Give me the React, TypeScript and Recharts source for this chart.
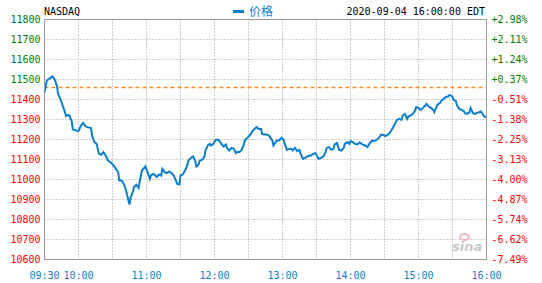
import { LineChart, Line, XAxis, YAxis, CartesianGrid, ReferenceLine, Legend } from "recharts";

// previous close of the index, used for the dashed line and the % axis
const prevClose = 11458.1;

// minutes after 09:30
const minutes = [
  0, 2, 5, 7, 9, 11, 12, 14, 16, 18, 19, 21, 22, 24, 25, 28, 30, 32, 34, 36, 38, 41, 42, 44, 46, 48, 50, 52, 54, 56,
  59, 61, 63, 65, 66, 68, 70, 72, 73, 75, 76, 78, 79, 81, 83, 85, 86, 89, 91, 93, 94, 96, 97, 99, 101, 103, 104, 106,
  108, 110, 112, 114, 116, 117, 119, 120, 122, 124, 126, 127, 129, 131, 133, 134, 136, 137, 139, 141, 142, 144, 146,
  147, 149, 151, 153, 154, 156, 158, 160, 161, 163, 165, 167, 169, 170, 172, 174, 176, 177, 179, 181, 183, 184, 187,
  189, 191, 192, 194, 196, 198, 199, 201, 202, 204, 205, 207, 209, 211, 212, 214, 216, 218, 219, 221, 223, 225, 226,
  228, 230, 232, 234, 235, 237, 239, 241, 242, 244, 246, 248, 249, 251, 253, 255, 256, 258, 260, 262, 264, 265, 267,
  269, 270, 272, 274, 276, 278, 280, 281, 283, 285, 287, 289, 290, 292, 294, 296, 297, 299, 301, 303, 304, 306, 308,
  310, 311, 313, 315, 316, 318, 320, 321, 323, 325, 327, 328, 330, 332, 334, 336, 337, 339, 341, 343, 344, 345, 347,
  349, 350, 352, 354, 356, 357, 359, 360, 361, 363, 364, 366, 368, 370, 371, 373, 375, 376, 378, 380, 381, 383, 385,
  387, 388, 390,
];

const prices = [
  11435, 11495, 11507, 11515, 11500, 11467, 11428, 11403, 11370, 11337, 11317, 11323, 11320, 11292, 11250, 11245,
  11242, 11267, 11283, 11267, 11262, 11257, 11220, 11187, 11178, 11128, 11123, 11137, 11120, 11095, 11083, 11070,
  11053, 11037, 10995, 10995, 10978, 10945, 10920, 10875, 10911, 10940, 10962, 10973, 10957, 11020, 11045, 11065,
  11037, 11003, 11020, 11028, 11025, 11012, 11025, 11020, 11053, 11037, 11032, 11040, 11032, 11020, 10995, 10978,
  10975, 11020, 11025, 11045, 11070, 11095, 11108, 11115, 11095, 11065, 11075, 11095, 11098, 11112, 11145, 11170,
  11178, 11170, 11178, 11198, 11200, 11195, 11178, 11165, 11175, 11158, 11145, 11158, 11153, 11132, 11137, 11137,
  11148, 11178, 11198, 11208, 11220, 11237, 11245, 11262, 11253, 11253, 11228, 11225, 11225, 11220, 11212, 11195,
  11170, 11187, 11195, 11195, 11208, 11198, 11178, 11148, 11153, 11153, 11145, 11158, 11142, 11148, 11128, 11103,
  11108, 11115, 11120, 11120, 11128, 11132, 11112, 11103, 11108, 11115, 11137, 11158, 11162, 11148, 11153, 11175,
  11182, 11148, 11145, 11158, 11178, 11187, 11178, 11192, 11187, 11178, 11175, 11185, 11178, 11173, 11170, 11162,
  11182, 11195, 11192, 11195, 11202, 11215, 11225, 11223, 11217, 11225, 11228, 11245, 11265, 11287, 11298, 11303,
  11298, 11320, 11328, 11303, 11315, 11320, 11328, 11345, 11362, 11358, 11348, 11358, 11370, 11378, 11365, 11358,
  11348, 11337, 11353, 11375, 11382, 11392, 11403, 11412, 11415, 11422, 11418, 11412, 11398, 11392, 11370, 11353,
  11348, 11342, 11332, 11328, 11337, 11358, 11332, 11328, 11332, 11335, 11340, 11325, 11315, 11313,
];

const gridMinutes = [0, 30, 60, 90, 120, 150, 180, 210, 240, 270, 300, 330, 360, 390];
const labelMinutes = [0, 30, 90, 150, 210, 270, 330, 390];
const labelTexts = ["09:30", "10:00", "11:00", "12:00", "13:00", "14:00", "15:00", "16:00"];
const priceTicks = [10600, 10700, 10800, 10900, 11000, 11100, 11200, 11300, 11400, 11500, 11600, 11700, 11800];

const data = minutes.map((m, i) => ({ m, price: prices[i] }));

const MONO = "'DejaVu Sans Mono', monospace";
const GREEN = "#008000";
const RED = "#ff0000";
const BLUE = "#0a7fcf";
const ORANGE = "#ff8c1a";

const pct = (v: number) => {
  const p = (v / prevClose - 1) * 100;
  return (p >= 0 ? "+" : "") + p.toFixed(2) + "%";
};

function XTick(props: any) {
  const { x, y, payload } = props;
  const idx = labelMinutes.indexOf(payload.value);
  if (idx < 0) return <g />;
  return (
    <text x={x} y={y + 14} textAnchor="middle" dominantBaseline="central" fontSize={10} fontFamily={MONO} fill={BLUE}>
      {labelTexts[idx]}
    </text>
  );
}

function LeftTick(props: any) {
  const { x, y, payload } = props;
  return (
    <text x={x - 2} y={y} textAnchor="end" dominantBaseline="central" fontSize={10} fontFamily={MONO}
      fill={payload.value > prevClose ? GREEN : RED}>
      {payload.value}
    </text>
  );
}

function RightTick(props: any) {
  const { x, y, payload } = props;
  return (
    <text x={x + 3} y={y} textAnchor="start" dominantBaseline="central" fontSize={10} fontFamily={MONO}
      fill={payload.value > prevClose ? GREEN : RED}>
      {pct(payload.value)}
    </text>
  );
}

// snap the dashed close line onto a pixel row so it stays sharp
function CloseLine(props: any) {
  const { x1, x2, y1 } = props;
  const y = Math.floor(y1) + 0.5;
  return (
    <line x1={x1} x2={x2} y1={y} y2={y} style={{ stroke: ORANGE, strokeWidth: 1.6, strokeDasharray: "4 3" }} />
  );
}

function LegendBox() {
  return (
    <div style={{ display: "flex", alignItems: "center", justifyContent: "flex-start", paddingLeft: 233 }}>
      <span style={{ display: "inline-block", width: 11, height: 3, background: BLUE, marginRight: 5 }} />
      <span style={{ color: BLUE, fontSize: 12, fontFamily: "'Noto Sans CJK SC', sans-serif", lineHeight: "14px" }}>价格</span>
    </div>
  );
}

export default function App() {
  return (
    <div style={{ position: "absolute", left: 0, top: 0, width: 542, height: 283, background: "#fff" }}>
      <LineChart width={542} height={283} data={data} margin={{ top: 19.5, right: 0, bottom: 0, left: 0.5 }}>
        <CartesianGrid yAxisId="left" stroke="#a0a0a0" strokeDasharray="1 2" />
        <XAxis dataKey="m" type="number" domain={[0, 390]} ticks={gridMinutes} interval={0} height={23.5}
          tickSize={0} tickLine={false} axisLine={{ stroke: "#999" }} tick={<XTick />} />
        <YAxis yAxisId="left" orientation="left" width={44} domain={[10600, 11800]} ticks={priceTicks} interval={0}
          tickSize={0} tickLine={false} axisLine={{ stroke: "#999" }} tick={<LeftTick />} />
        <YAxis yAxisId="right" orientation="right" width={55.5} domain={[10600, 11800]} ticks={priceTicks} interval={0}
          tickSize={0} tickLine={false} axisLine={{ stroke: "#999" }} tick={<RightTick />} />
        <ReferenceLine yAxisId="left" y={11800} stroke="#999" />
        <ReferenceLine yAxisId="left" y={prevClose} stroke={ORANGE} shape={<CloseLine />} />
        <Line yAxisId="left" type="linear" dataKey="price" name="价格" stroke={BLUE} strokeWidth={2} dot={false}
          isAnimationActive={false} />
        <Line yAxisId="right" type="linear" dataKey="price" stroke="transparent" dot={false} legendType="none"
          isAnimationActive={false} activeDot={false} />
        <Legend verticalAlign="middle" align="center" content={<LegendBox />}
          wrapperStyle={{ top: 4, left: 0, width: 542, height: 14 }} />
      </LineChart>
      <div style={{ position: "absolute", left: 44, top: 5, fontSize: 10, fontFamily: MONO, color: "#000", lineHeight: "14px" }}>
        NASDAQ
      </div>
      <div style={{ position: "absolute", right: 57, top: 5, fontSize: 10, fontFamily: MONO, color: "#000", lineHeight: "14px" }}>
        2020-09-04 16:00:00 EDT
      </div>
      <div style={{ position: "absolute", left: 459, top: 233, width: 11, height: 8, borderRadius: "50%",
        border: "2px solid #f4b8b8", boxSizing: "border-box" }} />
      <div style={{ position: "absolute", left: 452, top: 240, fontSize: 13, fontWeight: "bold", fontStyle: "italic",
        fontFamily: "'DejaVu Sans', sans-serif", color: "#c8c8c8", lineHeight: "14px" }}>
        sina
      </div>
    </div>
  );
}
